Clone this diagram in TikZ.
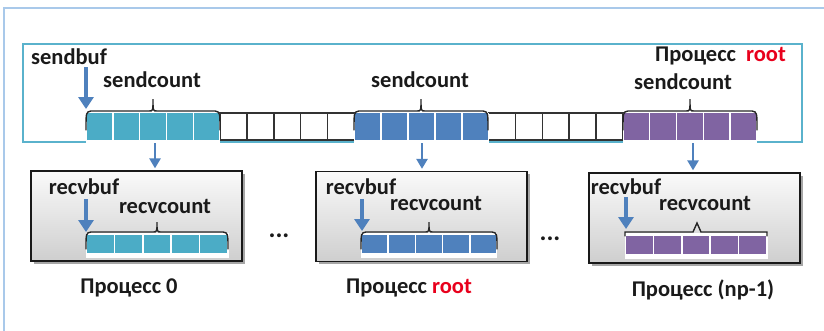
\documentclass[tikz,border=0pt]{standalone}
\usepackage{fontspec}
\setmainfont{Carlito}
\usetikzlibrary{arrows.meta}
\definecolor{cyanblk}{HTML}{4BACC6}
\definecolor{blueblk}{HTML}{4F81BD}
\definecolor{purpblk}{HTML}{8064A2}
\definecolor{framebl}{HTML}{5AB2CC}
\definecolor{outerbl}{HTML}{A9C9EA}
\definecolor{arrbl}{HTML}{4F81BD}
\definecolor{rootred}{HTML}{E8001C}
\definecolor{txt}{HTML}{1A1A1A}

% curly group brace: left x, right x, top y, depth of the ends, height of the tip
\newcommand\grpbrace[5]{%
  \pgfmathsetmacro\bxm{(#1+#2)/2}%
  \draw[brc] (#1,#3+#4) .. controls (#1,#3+1) .. (#1+5,#3) -- (\bxm-4,#3)
    .. controls (\bxm,#3) .. (\bxm,#3-#5) .. controls (\bxm,#3) .. (\bxm+4,#3)
    -- (#2-5,#3) .. controls (#2,#3+1) .. (#2,#3+#4);%
}
% row of five coloured cells with white separators
\newcommand\cellrow[6]{% colour, left x, right x, top y, bottom y, gap
  \pgfmathsetmacro\cwd{(#3-#2)/5}%
  \foreach \k in {0,...,4}{%
    \fill[#1] ({#2+\k*\cwd+#6/2},#4) rectangle ({#2+(\k+1)*\cwd-#6/2},#5);
  }%
}

\begin{document}
\begin{tikzpicture}[x=1pt,y=-1pt,
  lbl/.style={font=\bfseries\fontsize{22.5}{26}\selectfont, text=txt, inner sep=0pt, anchor=center},
  ptr/.style={draw=arrbl, line width=3.1pt, -{Triangle[width=15pt,length=12pt]}},
  dptr/.style={draw=arrbl, line width=2.7pt, -{Triangle[width=11pt,length=10pt]}},
  brc/.style={draw=black!85, line width=1.4pt, line cap=round},
  procbox/.style={draw=black!90, line width=1.3pt, top color=gray!4, bottom color=gray!38,
    minimum width=211pt, minimum height=90pt, inner sep=0pt},
  shadowbox/.style={fill=black!35, minimum width=211pt, minimum height=90pt, inner sep=0pt, draw=none},
  wcell/.style={draw=black!80, line width=1.5pt, fill=white},
  dotlbl/.style={font=\bfseries\fontsize{26}{28}\selectfont, text=txt, inner sep=0pt, anchor=center}]

\useasboundingbox (0,0) rectangle (824,330);

% outer frame
\draw[outerbl, line width=1.2pt] (4,340) -- (4,8) -- (830,8);

% frame of the root process
\draw[framebl, line width=1.3pt] (23,44) rectangle (802,142);

% send buffer of root: 25 cells
\def\cw{26.84}
\foreach \g/\c in {1/white,3/white}{
  \foreach \k in {0,...,4}{
    \draw[wcell] ({86+(\g*5+\k)*\cw},113) rectangle ({86+(\g*5+\k+1)*\cw},140);
  }
}
\fill[white] (86,113) rectangle (220.2,143);
\cellrow{cyanblk}{86}{220.2}{113}{140}{1.6}
\fill[white] (354.4,113) rectangle (488.6,143);
\cellrow{blueblk}{354.4}{488.6}{113}{140}{1.6}
\fill[white] (622.8,113) rectangle (757,143);
\cellrow{purpblk}{622.8}{757}{113}{140}{1.6}

\grpbrace{86}{220}{111}{19}{12}
\grpbrace{354}{488}{111}{19}{12}
\grpbrace{623}{757}{111}{19}{12}

\node[lbl] (sendbuf) at (69,57) {sendbuf};
\node[lbl] (sc0) at (152,80) {sendcount};
\node[lbl] (sc1) at (420,80) {sendcount};
\node[lbl] (sc2) at (683,82) {sendcount};
\node[lbl, anchor=east] (proot) at (786,56) {Процесс\hspace{0.45em}\textcolor{rootred}{root}};

\coordinate (sbtip) at (86,109);
\draw[ptr] ([yshift=-2pt]sendbuf.south -| sbtip) -- (sbtip);

% receiving processes
\foreach \n/\cx/\cy in {0/136.5/216, 1/421.5/216.5, 2/694.5/218}{
  \node[shadowbox] at (\cx+2.5,\cy+2.5) {};
  \node[procbox] (box\n) at (\cx,\cy) {};
}

% arrows from the root's blocks to the processes
\coordinate (s0) at (155,143);
\coordinate (s1) at (422,143);
\coordinate (s2) at (693,143);
\draw[dptr] (s0) -- ([yshift=2pt]s0 |- box0.north);
\draw[dptr] (s1) -- ([yshift=2pt]s1 |- box1.north);
\draw[dptr] (s2) -- ([yshift=2pt]s2 |- box2.north);

% receive buffers
\fill[white] (86,233) rectangle (229,258);
\cellrow{cyanblk}{86}{228}{235}{253}{1.6}
\fill[white] (361,233) rectangle (497,258);
\cellrow{blueblk}{361}{497}{235}{253}{1.6}
\fill[white] (625,233) rectangle (768,259);
\cellrow{purpblk}{625}{767}{236}{254}{1.6}

\grpbrace{86}{228}{232}{17}{10}
\grpbrace{361}{497}{232}{17}{10}
\draw[brc] (625,236) -- (625,232) -- (693,232) -- (697,223) -- (701,232) -- (767,232) -- (767,236);

\node[lbl] (rb0) at (84,187) {recvbuf};
\node[lbl] (rc0) at (165,206) {recvcount};
\node[lbl] (rb1) at (361,187) {recvbuf};
\node[lbl] (rc1) at (436,203) {recvcount};
\node[lbl] (rb2) at (626,187) {recvbuf};
\node[lbl] (rc2) at (705,203) {recvcount};

\coordinate (rt0) at (86,232);
\coordinate (rt1) at (362,231);
\coordinate (rt2) at (626,229);
\draw[ptr] ([yshift=-4pt]rb0.south -| rt0) -- (rt0);
\draw[ptr] ([yshift=-4pt]rb1.south -| rt1) -- (rt1);
\draw[ptr] ([yshift=-2pt]rb2.south -| rt2) -- (rt2);

\node[dotlbl] (dots0) at (279,236) {...};
\node[dotlbl] (dots1) at (550,239) {...};

\node[lbl] (p0) at (129,288) {Процесс 0};
\node[lbl] (p1) at (409,288) {Процесс \textcolor{rootred}{root}};
\node[lbl] (p2) at (703,290) {Процесс (np-1)};

\end{tikzpicture}
\end{document}
